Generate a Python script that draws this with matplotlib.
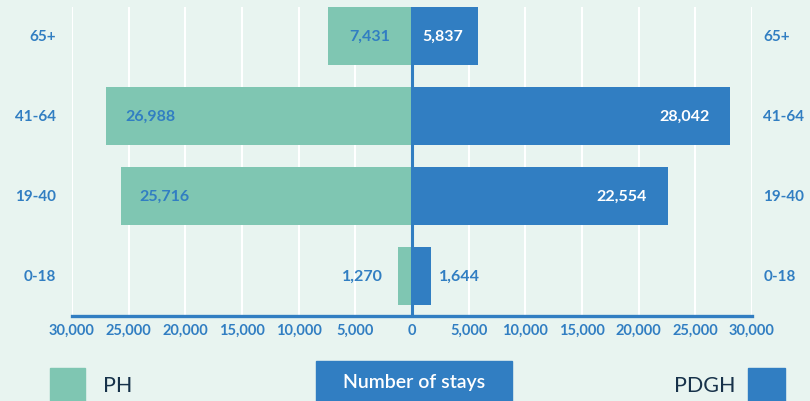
import matplotlib.pyplot as plt
from matplotlib.patches import Rectangle

ages = ["0-18", "19-40", "41-64", "65+"]
ph = [1270, 25716, 26988, 7431]
pdgh = [1644, 22554, 28042, 5837]
ticks = [-30000, -25000, -20000, -15000, -10000, -5000, 0, 5000, 10000, 15000, 20000, 25000, 30000]

green = "#7fc6b2"
blue = "#317ec2"
bg = "#e8f4f0"
navy = "#17324a"

plt.rcParams["font.family"] = ["Lato", "DejaVu Sans"]

fig = plt.figure(figsize=(8.1, 4.02), dpi=100, facecolor=bg)
ax = fig.add_axes([72 / 810, 85 / 402, 680 / 810, 309 / 402])
ax.set_facecolor(bg)

y = list(range(len(ages)))
ax.barh(y, [-v for v in ph], height=0.725, color=green, zorder=2)
ax.barh(y, pdgh, height=0.725, color=blue, zorder=2)

ax.set_xlim(-30000, 30000)
ax.set_ylim(-0.5, 3.3625)
ax.set_xticks(ticks)
ax.set_xticklabels([f"{abs(t):,}" for t in ticks], color=blue, fontsize=10.5, fontweight="bold")
ax.tick_params(axis="x", length=0, pad=5)
ax.set_yticks([])
ax.grid(axis="x", color="white", linewidth=1.5, zorder=0)
ax.set_axisbelow(True)
for s in ["top", "left", "right"]:
    ax.spines[s].set_visible(False)
ax.spines["bottom"].set_color(blue)
ax.spines["bottom"].set_linewidth(2.4)
ax.axvline(0, color=blue, linewidth=2.2, zorder=3)

# category labels on both sides
for i, a in enumerate(ages):
    ax.text(-31400, i, a, ha="right", va="center", color=blue, fontsize=11, fontweight="bold")
    ax.text(31000, i, a, ha="left", va="center", color=blue, fontsize=11, fontweight="bold")

# value labels
lab = dict(va="center", fontsize=11.5, fontweight="bold")
for i in range(len(ages)):
    v = ph[i]
    if v > 15000:
        ax.text(-v + 1700, i, f"{v:,}", ha="left", color=blue, **lab)
    elif v > 4000:
        ax.text(-v / 2, i, f"{v:,}", ha="center", color=blue, **lab)
    else:
        ax.text(-v - 1300, i, f"{v:,}", ha="right", color=blue, **lab)
    v = pdgh[i]
    if v > 15000:
        ax.text(v - 1800, i, f"{v:,}", ha="right", color="white", **lab)
    elif v > 4000:
        ax.text(v / 2 - 200, i, f"{v:,}", ha="center", color="white", **lab)
    else:
        ax.text(v + 700, i, f"{v:,}", ha="left", color=blue, **lab)

# legend / title strip at the bottom
fig.patches.append(Rectangle((50 / 810, 0), 35 / 810, 33 / 402, transform=fig.transFigure,
                             color=green, zorder=1))
fig.patches.append(Rectangle((748 / 810, 0), 37 / 810, 33 / 402, transform=fig.transFigure,
                             color=blue, zorder=1))
fig.patches.append(Rectangle((316 / 810, 0), 196 / 810, 40 / 402, transform=fig.transFigure,
                             color=blue, zorder=1))
fig.text(103 / 810, 16 / 402, "PH", ha="left", va="center", color=navy, fontsize=15.5)
fig.text(736 / 810, 16 / 402, "PDGH", ha="right", va="center", color=navy, fontsize=15.5)
fig.text(414 / 810, 19 / 402, "Number of stays", ha="center", va="center", color="white",
         fontsize=14, fontweight="semibold")

fig.savefig("out.png", dpi=100, facecolor=bg)
